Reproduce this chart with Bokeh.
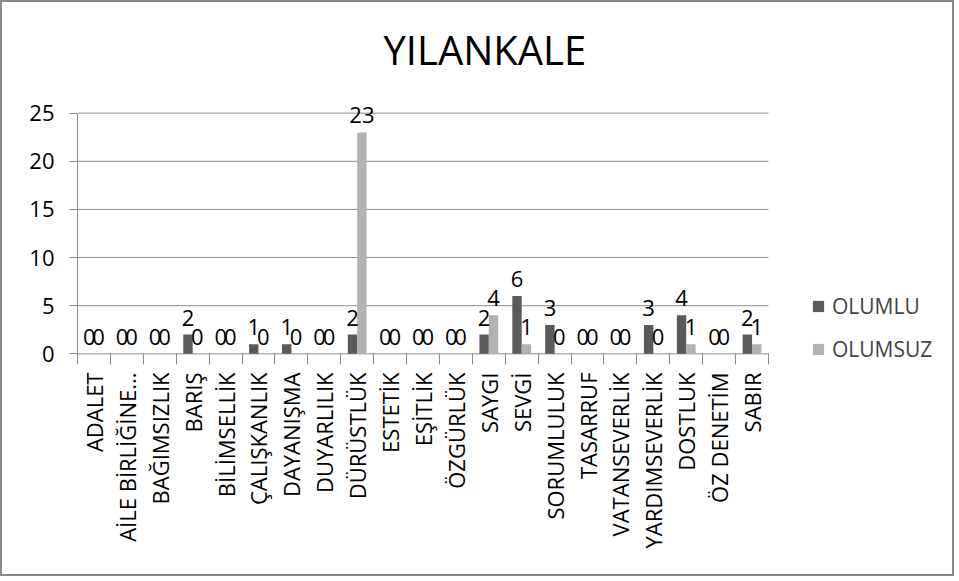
from math import pi
from bokeh.plotting import figure
from bokeh.models import (ColumnDataSource, Range1d, FixedTicker, Legend, LegendItem, Title)
from bokeh.core.properties import value
from bokeh.embed import file_html
from bokeh.resources import INLINE

categories = ["ADALET", "AİLE BİRLİĞİNE...", "BAĞIMSIZLIK", "BARIŞ", "BİLİMSELLİK",
              "ÇALIŞKANLIK", "DAYANIŞMA", "DUYARLILIK", "DÜRÜSTLÜK", "ESTETİK",
              "EŞİTLİK", "ÖZGÜRLÜK", "SAYGI", "SEVGİ", "SORUMLULUK", "TASARRUF",
              "VATANSEVERLİK", "YARDIMSEVERLİK", "DOSTLUK", "ÖZ DENETİM", "SABIR"]
olumlu = [0, 0, 0, 2, 0, 1, 1, 0, 2, 0, 0, 0, 2, 6, 3, 0, 0, 3, 4, 0, 2]
olumsuz = [0, 0, 0, 0, 0, 0, 0, 0, 23, 0, 0, 0, 4, 1, 0, 0, 0, 0, 1, 0, 1]
y_ticks = [0, 5, 10, 15, 20, 25]
title_text = "YILANKALE"
series_names = ["OLUMLU", "OLUMSUZ"]

FONT = "Open Sans"
GRAY = "#8c8c8c"
C1 = "#5a5a5a"
C2 = "#b2b2b2"

n = len(categories)
y_max = y_ticks[-1]
bw = 1 / 3.5
centers = [i + 0.5 for i in range(n)]

# layout in page pixels; canvas is shifted by the 2px CSS border
OFF = 2
W, H = 954, 576
frame_left, frame_right = 77, 953
frame_top, frame_bottom = 92, 364
y0_px, ymax_px = 353.3, 111.7
cat_px = 691.0 / n
ppu = (y0_px - ymax_px) / y_max
x_end = (frame_right - frame_left) / cat_px
y_start = -(frame_bottom - y0_px) / ppu
y_end = y_max + (ymax_px - frame_top) / ppu

src1 = ColumnDataSource(dict(x=[c - bw / 2 for c in centers], top=olumlu,
                             lab=[str(v) for v in olumlu]))
src2 = ColumnDataSource(dict(x=[c + bw / 2 for c in centers], top=olumsuz,
                             lab=[str(v) for v in olumsuz]))

p = figure(width=W, height=H, output_backend="svg", toolbar_location=None,
           x_range=Range1d(0, x_end), y_range=Range1d(y_start, y_end),
           min_border_left=frame_left - OFF, min_border_right=W - (frame_right - OFF),
           min_border_top=frame_top - OFF, min_border_bottom=H - (frame_bottom - OFF))
p.outline_line_color = None
p.background_fill_color = "white"
p.border_fill_color = "white"
p.styles = {"border": "2px solid #8a8a8a"}

# horizontal gridlines (and the zero line) over the category span
p.segment(x0=[0] * len(y_ticks), x1=[n] * len(y_ticks), y0=y_ticks, y1=y_ticks,
          line_color=GRAY, line_width=1)

r1 = p.vbar(x="x", top="top", width=bw, source=src1, fill_color=C1, line_color=None)
r2 = p.vbar(x="x", top="top", width=bw, source=src2, fill_color=C2, line_color=None)

for s in (src1, src2):
    p.text(x="x", y="top", text="lab", source=s, text_font=value(FONT),
           text_font_size="22px", text_align="center", text_baseline="alphabetic",
           y_offset=-17, text_color="black")

# x axis: labels below, category-boundary ticks reaching up to the zero line
xa = p.xaxis[0]
xa.bounds = (0, n)
xa.ticker = FixedTicker(ticks=centers, minor_ticks=list(range(n + 1)))
xa.major_label_overrides = {c: name for c, name in zip(centers, categories)}
xa.major_label_orientation = pi / 2
xa.major_label_text_font = FONT
xa.major_label_text_font_size = "22px"
xa.major_label_text_color = "black"
xa.major_label_standoff = 8
xa.major_tick_line_color = None
xa.major_tick_out = 0
xa.major_tick_in = 0
xa.minor_tick_out = 0
xa.minor_tick_in = 11
xa.minor_tick_line_color = GRAY
xa.axis_line_color = None

ya = p.yaxis[0]
ya.bounds = (0, y_max)
ya.ticker = FixedTicker(ticks=y_ticks)
ya.major_label_text_font = FONT
ya.major_label_text_font_size = "22px"
ya.major_label_text_color = "black"
ya.major_label_standoff = 15
ya.major_tick_out = 8
ya.major_tick_in = 0
ya.major_tick_line_color = GRAY
ya.minor_tick_line_color = None
ya.axis_line_color = GRAY

p.xgrid.grid_line_color = None
p.ygrid.grid_line_color = None

# title
t = Title(text=title_text, align="left", offset=306, text_font=FONT,
          text_font_size="40px", text_font_style="normal", text_color="black",
          standoff=34)
p.add_layout(t, "above")

legend = Legend(items=[LegendItem(label=series_names[0], renderers=[r1]),
                       LegendItem(label=series_names[1], renderers=[r2])],
                location=(734, 0), orientation="vertical",
                label_text_font=FONT, label_text_font_size="21px",
                glyph_width=14, glyph_height=14, label_height=30,
                spacing=13, padding=0, margin=0, label_standoff=7,
                border_line_color=None, background_fill_alpha=0)
p.add_layout(legend, "center")

open("out.html", "w").write(file_html(p, INLINE))
